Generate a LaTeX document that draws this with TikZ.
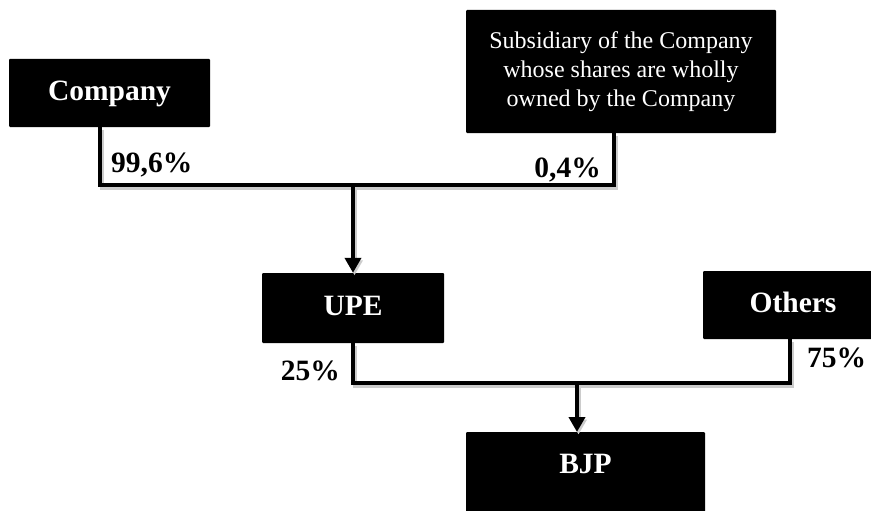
\documentclass[tikz,border=0pt]{standalone}
\usepackage{fontspec}
\setmainfont{Liberation Serif}
\usetikzlibrary{arrows.meta}

\begin{document}
\begin{tikzpicture}[
  x=1pt, y=-1pt,
  box/.style={fill=black, text=white, rounded corners=1pt, inner sep=0pt,
    font=\bfseries\fontsize{29.5}{35}\selectfont, text height=20pt, text depth=6pt},
  pct/.style={inner sep=0pt, font=\bfseries\fontsize{29.5}{35}\selectfont},
  link/.style={line width=4pt, line join=miter,
    preaction={draw, black!20, line width=4pt, transform canvas={shift={(1.5pt,-2.5pt)}}}},
  arrow/.style={link, -{Triangle[width=16pt,length=15pt]}}
]
\useasboundingbox (0,0) rectangle (871,511);

% owners
\node[box, minimum width=201pt, minimum height=68pt] (company) at (109.5,93) {Company};
\node[box, minimum width=310pt, minimum height=123pt, align=center,
  font=\fontsize{24}{29}\selectfont, text height=, text depth=] (sub) at (621,71.5)
  {Subsidiary of the Company\\whose shares are wholly\\owned by the Company};

% middle level
\node[box, minimum width=182pt, minimum height=70pt] (upe) at (353,308) {UPE};
\node[box, minimum width=180pt, minimum height=68pt] (others) at (793,305) {Others};

% bottom
\node[box, anchor=north, minimum width=239pt, inner ysep=21pt, text depth=20pt] (bjp) at (585.5,432) {BJP};

\coordinate (busA) at (100,185);
\coordinate (busB) at (614,185);
\coordinate (busC) at (353,383);
\coordinate (busD) at (790,383);
\coordinate (drop) at (577,383);

\draw[link] (company.south -| busA) -- (busA) -- (busB) -- (sub.south -| busB);
\draw[arrow] (upe.north |- busA) -- (upe.north);
\draw[link] (upe.south) -- (busC) -- (busD) -- (others.south -| busD);
\draw[arrow] (drop) -- (drop |- bjp.north);

% shares
\node[pct, anchor=base west] (p996) at (111,172) {99,6\%};
\node[pct, anchor=base east] (p04) at (601,177) {0,4\%};
\node[pct, anchor=base east] (p25) at (340,380) {25\%};
\node[pct, anchor=base west] (p75) at (807,367) {75\%};
\end{tikzpicture}
\end{document}
